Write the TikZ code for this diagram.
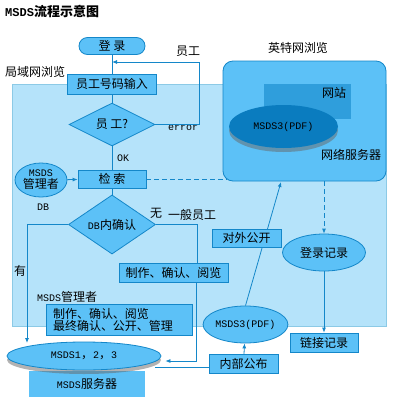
\documentclass[tikz,border=0pt]{standalone}
\usepackage{fontspec}
\setmainfont{Noto Sans CJK SC}
\newfontfamily\monof{Liberation Mono}
\usetikzlibrary{shapes.geometric,arrows.meta,shadows}
\definecolor{lan}{HTML}{B5E3FA}
\definecolor{lanb}{HTML}{8CCAE6}
\definecolor{nf}{HTML}{5CC1F7}
\definecolor{nb}{HTML}{1487C9}
\definecolor{sitec}{HTML}{2F9EDC}
\definecolor{dk}{HTML}{0A7CBF}
\newcommand\zh{\fontsize{12}{14}\selectfont}
\newcommand\lat{\monof\fontsize{10}{12}\selectfont}
\tikzset{
  box/.style={draw=nb, fill=nf, line width=0.8pt, inner sep=0pt, font=\zh},
  ell/.style={ellipse, draw=nb, fill=nf, line width=0.8pt, inner sep=0pt, font=\zh},
  dia/.style={diamond, draw=nb, fill=nf, line width=0.8pt, inner sep=0pt, font=\zh},
  conn/.style={draw=nb, line width=0.8pt},
  arr/.style={conn, -{Latex[length=5pt,width=4pt]}},
  lbl/.style={inner sep=0pt, font=\zh},
  shad/.style={drop shadow={shadow xshift=0pt, shadow yshift=-4pt, opacity=0.5, fill=black!60}}
}
\begin{document}
\begin{tikzpicture}[x=1pt,y=-1pt]
\useasboundingbox (0,0) rectangle (400,400);
\fill[white] (0,0) rectangle (400,400);
% LAN region
\draw[fill=lan, draw=lanb, line width=0.8pt] (12,84) rectangle (386,326);
% title and region labels
\node[lbl, anchor=west] (title) at (5,11) {{\monof\bfseries\fontsize{12}{14}\selectfont MSDS}{\bfseries\fontsize{13}{15}\selectfont 流程示意图}};
\node[lbl, anchor=west] (lanl) at (5,72) {局域网浏览};
\node[lbl] (inetl) at (298,48) {英特网浏览};
% internet server
\node[draw=nb, fill=nf, line width=0.8pt, rounded corners=10pt, minimum width=163pt, minimum height=120pt, inner sep=0pt] (net) at (304.5,121) {};
\node[fill=sitec, minimum width=87pt, minimum height=35pt, inner sep=0pt] (site) at (307.5,101.5) {};
\node[lbl] (sitel) at (334,93) {网站};
\node[ellipse, fill=dk, minimum width=109pt, minimum height=43pt, inner sep=0pt, shad, font=\lat] (pdf1) at (283.5,126.5) {MSDS3(PDF)};
\node[lbl] (netl) at (351,155) {网络服务器};
% left flow
\node[box, rounded corners=8.5pt, minimum width=66pt, minimum height=17pt] (login) at (112,46) {登\ 录};
\node[box, minimum width=89pt, minimum height=20pt] (input) at (112,84) {员工号码输入};
\node[dia, minimum width=86pt, minimum height=37pt] (d1) at (112,124.5) {员\ 工?};
\node[box, minimum width=68pt, minimum height=18pt] (search) at (112,179) {检\ 索};
\node[ell, minimum width=52pt, minimum height=34pt, align=center] (mgr) at (41,180) {{\lat MSDS}\\[-2pt]管理者};
\node[dia, minimum width=87pt, minimum height=37pt] (d2) at (112,224.5) {{\lat DB}内确认};
\node[box, minimum width=109pt, minimum height=19pt] (make1) at (173.5,272.5) {制作、确认、阅览};
\node[box, minimum width=146pt, minimum height=31pt, align=left, text width=132pt, inner xsep=7pt] (mgrbox) at (119,319.5) {制作、确认、阅览\\[-2pt]最终确认、公开、管理};
\node[fill=nf, minimum width=116pt, minimum height=26pt, inner sep=0pt, font=\zh] (server) at (87,384) {\raisebox{-1pt}{{\lat MSDS}服务器}};
\node[ell, minimum width=154pt, minimum height=28pt, shad] (msds) at (84,356) {{\lat MSDS1}，{\lat 2}，{\lat 3}};
% right flow
\node[box, minimum width=69pt, minimum height=19pt] (pub) at (243.5,364) {内部公布};
\node[ell, minimum width=83pt, minimum height=37pt, font=\lat] (pdf2) at (245.5,324.5) {MSDS3(PDF)};
\coordinate (nett) at (281,182);
\draw[arr] (pdf2.north) -- (nett);
\node[box, minimum width=69pt, minimum height=18pt] (open) at (246.5,238) {对外公开};
\node[ell, minimum width=83pt, minimum height=37pt] (rec) at (324,252.5) {登录记录};
\node[box, minimum width=68pt, minimum height=19pt] (link) at (324,342.5) {链接记录};
% labels
\node[lbl, anchor=west] (yg) at (176,51) {员工};
\node[lbl, anchor=west, font=\lat] (err) at (168,128) {error};
\node[lbl, anchor=west, font=\lat] (ok) at (117,158) {OK};
\node[lbl, anchor=west, font=\lat] (db) at (37,207) {DB};
\node[lbl, anchor=west] (wu) at (150,213) {无};
\node[lbl, anchor=west] (ybyg) at (168,215) {一般员工};
\node[lbl, anchor=west] (you) at (14,271) {有};
\node[lbl, anchor=west] (mgrl) at (37,297) {{\lat MSDS}管理者};
% connectors
\coordinate (e1) at (199,62);
\coordinate (nc) at (227,179);
\coordinate (t1) at (27,343);
\coordinate (ms) at (155,367);
\draw[conn] (login) -- (input);
\draw[conn] (input) -- (d1);
\draw[conn] (d1) -- (search);
\draw[conn] (search) -- (d2);
\draw[arr] (mgr) -- (search);
\draw[arr] (d1.east) -| (e1) -- (login.south |- e1);
\draw[conn, dashed, dash pattern=on 5pt off 3pt] (search.east) -- (nc);
\draw[conn] (d2.east) -| ([xshift=23.5pt]make1.north);
\draw[arr] ([xshift=22.5pt]make1.south) |- ([shift={(4pt,-5pt)}]msds.east);
\draw[arr] (d2.west) -| (t1);
\draw[conn] ([yshift=-3pt]pub.west) -- (ms);
\draw[arr] (pub) -- (pdf2);
\draw[arr, dashed, dash pattern=on 5pt off 3pt] (net.south -| rec.north) -- (rec.north);
\draw[arr] (rec) -- (link);
\end{tikzpicture}
\end{document}
